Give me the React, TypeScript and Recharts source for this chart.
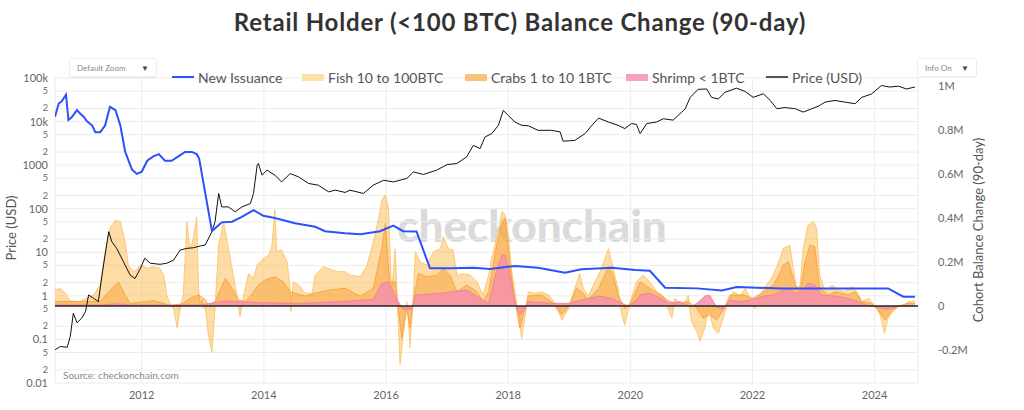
import React from 'react';
import { ComposedChart, Line, Area, XAxis, YAxis, CartesianGrid, ReferenceLine } from 'recharts';

const FONT = 'Lato, "Open Sans", sans-serif';

// [decimal year, value] pairs. Balances in millions of BTC (right axis), price in USD (left, log)
const newIssuance: [number, number][] = [
  [2010.58, 0.86], [2010.64, 0.92], [2010.69, 0.93], [2010.76, 0.96], [2010.8, 0.845], [2010.86, 0.86],
  [2010.94, 0.89], [2010.99, 0.875], [2011.05, 0.86], [2011.1, 0.84], [2011.19, 0.82], [2011.24, 0.79],
  [2011.32, 0.79], [2011.4, 0.82], [2011.48, 0.905], [2011.57, 0.89], [2011.65, 0.82], [2011.73, 0.7],
  [2011.84, 0.62], [2011.92, 0.6], [2012.0, 0.61], [2012.09, 0.66], [2012.19, 0.68], [2012.28, 0.69],
  [2012.38, 0.66], [2012.49, 0.66], [2012.6, 0.68], [2012.71, 0.7], [2012.82, 0.7], [2012.9, 0.69],
  [2012.94, 0.67], [2013.15, 0.34], [2013.23, 0.36], [2013.31, 0.38], [2013.48, 0.383], [2013.64, 0.405],
  [2013.83, 0.436], [2013.99, 0.41], [2014.18, 0.4], [2014.51, 0.376], [2014.84, 0.36], [2015.0, 0.34],
  [2015.33, 0.33], [2015.58, 0.326], [2015.9, 0.34], [2016.12, 0.365], [2016.28, 0.34], [2016.5, 0.338],
  [2016.72, 0.171], [2017.05, 0.171], [2017.43, 0.174], [2017.7, 0.168], [2018.11, 0.182], [2018.49, 0.174],
  [2018.93, 0.151], [2019.2, 0.167], [2019.7, 0.174], [2020.08, 0.164], [2020.32, 0.16], [2020.57, 0.083],
  [2021.09, 0.08], [2021.5, 0.07], [2021.74, 0.086], [2022.45, 0.08], [2024.22, 0.08], [2024.47, 0.042],
  [2024.66, 0.042],
];

const fish: [number, number][] = [
  [2010.58, 0.073], [2010.67, 0.08], [2010.75, 0.058], [2010.83, 0.023], [2010.99, 0.02], [2011.1, 0.035],
  [2011.21, 0.05], [2011.32, 0.095], [2011.4, 0.247], [2011.48, 0.353], [2011.57, 0.39], [2011.65, 0.383],
  [2011.73, 0.29], [2011.78, 0.186], [2011.87, 0.155], [2011.98, 0.186], [2012.09, 0.171], [2012.19, 0.179],
  [2012.3, 0.17], [2012.36, 0.14], [2012.41, 0.05], [2012.47, 0.005], [2012.52, -0.01], [2012.58, -0.1],
  [2012.63, -0.01], [2012.68, 0.05], [2012.74, 0.383], [2012.79, 0.26], [2012.84, 0.3], [2012.9, 0.405],
  [2012.93, 0.08], [2012.96, 0.0], [2012.99, 0.03], [2013.01, -0.01], [2013.04, 0.0], [2013.09, -0.13],
  [2013.15, -0.21], [2013.2, -0.01], [2013.26, 0.277], [2013.34, 0.383], [2013.42, 0.26], [2013.5, 0.14],
  [2013.56, 0.05], [2013.61, -0.05], [2013.67, 0.05], [2013.75, 0.148], [2013.83, 0.126], [2013.89, 0.186],
  [2013.97, 0.21], [2014.08, 0.232], [2014.13, 0.27], [2014.18, 0.436], [2014.21, 0.247], [2014.29, 0.255],
  [2014.38, 0.2], [2014.43, 0.08], [2014.44, -0.026], [2014.48, 0.11], [2014.57, 0.095], [2014.68, 0.058],
  [2014.79, 0.058], [2014.84, 0.14], [2014.98, 0.179], [2015.11, 0.164], [2015.22, 0.156], [2015.33, 0.156],
  [2015.41, 0.14], [2015.58, 0.133], [2015.69, 0.186], [2015.79, 0.29], [2015.88, 0.4], [2015.93, 0.48],
  [2015.99, 0.505], [2016.04, 0.444], [2016.07, 0.23], [2016.09, 0.05], [2016.15, 0.26], [2016.19, -0.01],
  [2016.23, -0.268], [2016.28, -0.13], [2016.34, 0.02], [2016.37, -0.07], [2016.39, -0.19], [2016.44, 0.0],
  [2016.48, 0.247], [2016.56, 0.2], [2016.67, 0.186], [2016.78, 0.247], [2016.89, 0.26], [2016.94, 0.315],
  [2017.02, 0.26], [2017.1, 0.255], [2017.16, 0.14], [2017.27, 0.146], [2017.38, 0.14], [2017.49, 0.11],
  [2017.59, 0.05], [2017.68, 0.14], [2017.73, 0.217], [2017.81, 0.308], [2017.9, 0.429], [2017.95, 0.414],
  [2018.0, 0.323], [2018.06, 0.156], [2018.11, 0.065], [2018.17, -0.04], [2018.22, -0.147], [2018.28, -0.04],
  [2018.33, 0.065], [2018.44, 0.058], [2018.55, 0.065], [2018.66, 0.05], [2018.77, 0.012], [2018.88, -0.064],
  [2018.99, -0.01], [2019.09, 0.08], [2019.17, 0.148], [2019.23, 0.08], [2019.31, 0.045], [2019.42, 0.11],
  [2019.53, 0.171], [2019.64, 0.26], [2019.72, 0.171], [2019.8, 0.08], [2019.86, -0.04], [2019.91, -0.086],
  [2019.97, -0.01], [2020.05, 0.065], [2020.1, 0.11], [2020.21, 0.14], [2020.32, 0.11], [2020.43, 0.065],
  [2020.54, 0.045], [2020.68, -0.056], [2020.73, 0.035], [2020.87, 0.0], [2020.95, 0.05], [2021.0, -0.07],
  [2021.09, -0.117], [2021.14, -0.16], [2021.22, -0.1], [2021.28, -0.01], [2021.36, -0.1], [2021.44, -0.124],
  [2021.52, -0.056], [2021.6, 0.02], [2021.69, 0.065], [2021.8, 0.045], [2021.88, 0.08], [2021.96, 0.035],
  [2022.04, -0.01], [2022.12, 0.05], [2022.23, 0.095], [2022.31, 0.126], [2022.4, 0.179], [2022.45, 0.217],
  [2022.5, 0.26], [2022.61, 0.277], [2022.67, 0.171], [2022.72, 0.08], [2022.78, 0.095], [2022.83, 0.26],
  [2022.91, 0.368], [2023.0, 0.383], [2023.05, 0.353], [2023.1, 0.14], [2023.19, 0.065], [2023.3, 0.095],
  [2023.4, 0.073], [2023.51, 0.065], [2023.62, 0.087], [2023.71, 0.065], [2023.79, 0.02], [2023.9, 0.035],
  [2024.01, 0.0], [2024.09, -0.04], [2024.16, -0.124], [2024.22, -0.056], [2024.3, -0.026], [2024.39, 0.0],
  [2024.47, 0.0], [2024.55, 0.02], [2024.66, 0.023],
];

const crabs: [number, number][] = [
  [2010.58, 0.02], [2011.32, 0.02], [2011.46, 0.065], [2011.62, 0.11], [2011.73, 0.05], [2011.81, 0.012],
  [2012.09, 0.02], [2012.19, 0.025], [2012.36, 0.012], [2012.47, 0.0], [2012.68, 0.012], [2012.79, 0.035],
  [2012.93, 0.05], [2013.04, 0.03], [2013.09, 0.0], [2013.2, 0.02], [2013.37, 0.126], [2013.48, 0.08],
  [2013.58, 0.03], [2013.69, 0.02], [2013.78, 0.045], [2013.91, 0.095], [2014.02, 0.118], [2014.18, 0.133],
  [2014.32, 0.11], [2014.43, 0.065], [2014.51, 0.058], [2014.68, 0.045], [2014.84, 0.058], [2015.06, 0.073],
  [2015.33, 0.08], [2015.58, 0.045], [2015.79, 0.08], [2015.93, 0.26], [2015.99, 0.375], [2016.06, 0.11],
  [2016.15, 0.11], [2016.2, -0.01], [2016.26, -0.147], [2016.34, -0.01], [2016.39, -0.1], [2016.45, 0.03],
  [2016.53, 0.148], [2016.67, 0.133], [2016.83, 0.14], [2016.94, 0.171], [2017.05, 0.14], [2017.16, 0.065],
  [2017.32, 0.095], [2017.49, 0.065], [2017.59, 0.02], [2017.68, 0.065], [2017.79, 0.247], [2017.9, 0.383],
  [2017.95, 0.4], [2018.03, 0.186], [2018.11, 0.02], [2018.19, -0.1], [2018.28, -0.01], [2018.33, 0.045],
  [2018.55, 0.05], [2018.71, 0.02], [2018.88, -0.04], [2018.99, 0.0], [2019.12, 0.08], [2019.2, 0.065],
  [2019.31, 0.03], [2019.48, 0.08], [2019.64, 0.179], [2019.72, 0.14], [2019.8, 0.05], [2019.91, -0.01],
  [2020.02, 0.02], [2020.16, 0.11], [2020.32, 0.08], [2020.49, 0.05], [2020.65, 0.02], [2020.81, 0.012],
  [2020.95, 0.02], [2021.09, -0.01], [2021.19, -0.056], [2021.3, -0.04], [2021.41, -0.064], [2021.52, -0.02],
  [2021.63, 0.05], [2021.85, 0.05], [2022.01, 0.035], [2022.18, 0.065], [2022.34, 0.095], [2022.45, 0.15],
  [2022.5, 0.186], [2022.59, 0.2], [2022.7, 0.095], [2022.78, 0.065], [2022.86, 0.2], [2022.94, 0.277],
  [2023.02, 0.27], [2023.1, 0.08], [2023.24, 0.05], [2023.35, 0.065], [2023.57, 0.05], [2023.68, 0.065],
  [2023.79, 0.02], [2023.95, 0.012], [2024.06, -0.02], [2024.17, -0.064], [2024.28, -0.02], [2024.39, 0.0],
  [2024.55, 0.012], [2024.66, 0.012],
];

const shrimp: [number, number][] = [
  [2010.58, 0.005], [2011.32, 0.005], [2011.62, 0.01], [2011.81, 0.005], [2012.96, 0.005], [2013.37, 0.023],
  [2013.94, 0.015], [2014.57, 0.012], [2015.25, 0.02], [2015.79, 0.03], [2015.93, 0.103], [2016.04, 0.11],
  [2016.12, 0.065], [2016.2, 0.02], [2016.28, -0.015], [2016.42, -0.015], [2016.48, 0.05], [2016.89, 0.058],
  [2017.32, 0.073], [2017.54, 0.035], [2017.68, 0.012], [2017.79, 0.14], [2017.9, 0.232], [2017.95, 0.232],
  [2018.03, 0.14], [2018.09, 0.05], [2018.14, -0.01], [2018.19, -0.04], [2018.28, -0.01], [2018.33, 0.02],
  [2018.71, 0.012], [2018.99, 0.012], [2019.2, 0.027], [2019.48, 0.045], [2019.7, 0.035], [2019.8, 0.02],
  [2019.97, 0.0], [2020.08, 0.02], [2020.16, 0.05], [2020.32, 0.058], [2020.49, 0.035], [2020.65, 0.012],
  [2020.81, 0.02], [2020.98, -0.005], [2021.09, 0.012], [2021.22, 0.045], [2021.3, 0.05], [2021.41, -0.005],
  [2021.52, -0.015], [2021.63, 0.027], [2021.8, 0.02], [2021.96, 0.027], [2022.18, 0.045], [2022.34, 0.05],
  [2022.45, 0.065], [2022.59, 0.08], [2022.7, 0.058], [2022.81, 0.065], [2022.91, 0.103], [2023.02, 0.095],
  [2023.13, 0.05], [2023.35, 0.045], [2023.57, 0.035], [2023.73, 0.02], [2023.9, 0.0], [2024.01, -0.003],
  [2024.11, -0.01], [2024.22, -0.015], [2024.39, 0.0], [2024.66, 0.0],
];

const price: [number, number][] = [
  [2010.58, 0.058], [2010.67, 0.069], [2010.78, 0.066], [2010.83, 0.117], [2010.88, 0.4], [2010.94, 0.24],
  [2011.02, 0.31], [2011.08, 0.44], [2011.13, 1.05], [2011.21, 0.88], [2011.29, 0.74], [2011.35, 3.0],
  [2011.4, 8.7], [2011.46, 29.7], [2011.51, 17.5], [2011.59, 12.3], [2011.7, 6.1], [2011.81, 3.0],
  [2011.89, 2.5], [2011.98, 4.3], [2012.05, 7.3], [2012.14, 5.6], [2012.3, 5.3], [2012.41, 5.6],
  [2012.52, 6.6], [2012.63, 11.3], [2012.74, 12.3], [2012.85, 12.7], [2012.96, 14], [2013.04, 14.7],
  [2013.15, 29.7], [2013.2, 50], [2013.26, 224], [2013.31, 110], [2013.42, 110], [2013.53, 85],
  [2013.64, 110], [2013.78, 132], [2013.83, 224], [2013.89, 1000], [2013.91, 1090], [2013.97, 590],
  [2014.05, 770], [2014.18, 590], [2014.29, 412], [2014.43, 640], [2014.57, 537], [2014.73, 380],
  [2014.89, 347], [2015.06, 244], [2015.17, 267], [2015.33, 236], [2015.41, 267], [2015.63, 224],
  [2015.79, 347], [2015.96, 450], [2016.12, 412], [2016.34, 495], [2016.45, 700], [2016.61, 610],
  [2016.83, 770], [2017.0, 1030], [2017.16, 1090], [2017.32, 1550], [2017.43, 2850], [2017.54, 2400],
  [2017.62, 4420], [2017.73, 5300], [2017.84, 8200], [2017.92, 18000], [2018.0, 13800], [2018.11, 9800],
  [2018.22, 8200], [2018.33, 8000], [2018.49, 6300], [2018.71, 6300], [2018.85, 5800], [2018.9, 3550],
  [2019.09, 3700], [2019.26, 5300], [2019.37, 8200], [2019.48, 12000], [2019.64, 9800], [2019.8, 8200],
  [2019.91, 6900], [2020.02, 9000], [2020.1, 8600], [2020.16, 5300], [2020.27, 9000], [2020.43, 9800],
  [2020.54, 11600], [2020.7, 10800], [2020.81, 15000], [2020.9, 19700], [2020.98, 36000], [2021.11, 55000],
  [2021.25, 56000], [2021.33, 36000], [2021.44, 33000], [2021.55, 47000], [2021.74, 58500], [2021.88, 49000],
  [2022.01, 36000], [2022.18, 43500], [2022.29, 30500], [2022.4, 19700], [2022.53, 21000], [2022.7, 19700],
  [2022.83, 16500], [2022.97, 19700], [2023.08, 22600], [2023.19, 28000], [2023.35, 30500], [2023.51, 28000],
  [2023.68, 25700], [2023.79, 36000], [2023.95, 43000], [2024.11, 67000], [2024.25, 62000], [2024.39, 65000],
  [2024.52, 56000], [2024.66, 62000],
];

const yearTicks = [2012, 2014, 2016, 2018, 2020, 2022, 2024];
const priceTicks = [
  0.01, 0.02, 0.05, 0.1, 0.2, 0.5, 1, 2, 5, 10, 20, 50, 100, 200, 500, 1000, 2000, 5000, 10000, 20000, 50000, 100000,
];
const balanceTicks = [-0.2, 0, 0.2, 0.4, 0.6, 0.8, 1];

const toRows = (pairs: [number, number][]) => pairs.map(([t, v]) => ({ t, v }));

const PriceTick = (props: any) => {
  const { x, y, payload } = props;
  const v: number = payload.value;
  const exp = Math.log10(v);
  const isDecade = Math.abs(exp - Math.round(exp)) < 1e-6;
  let label: string;
  if (isDecade) label = v >= 10000 ? `${v / 1000}k` : String(v);
  else label = String(Math.round(v / Math.pow(10, Math.floor(exp))));
  return (
    <text x={x} y={y} dy={isDecade ? 4 : 3} textAnchor="end" fontSize={isDecade ? 11 : 9} fill="#666" fontFamily={FONT}>
      {label}
    </text>
  );
};

const legendItems = [
  { name: 'New Issuance', kind: 'line', color: '#2b50ff', left: 172 },
  { name: 'Fish 10 to 100BTC', kind: 'box', color: '#fde0a8', left: 302 },
  { name: 'Crabs 1 to 10 1BTC', kind: 'box', color: '#fbc07a', left: 465 },
  { name: 'Shrimp < 1BTC', kind: 'box', color: '#f7a2b8', left: 626 },
  { name: 'Price (USD)', kind: 'line', color: '#555', left: 766 },
];

const Dropdown: React.FC<{ label: string; left: number; width: number }> = ({ label, left, width }) => (
  <div
    style={{
      position: 'absolute', left, top: 58, width, height: 19, border: '1px solid #eee', borderRadius: 3,
      boxShadow: '0 1px 2px rgba(0,0,0,0.06)', fontSize: 8, color: '#888', fontFamily: FONT,
      display: 'flex', alignItems: 'center', justifyContent: 'space-between', padding: '0 7px', boxSizing: 'border-box',
    }}
  >
    <span>{label}</span>
    <span style={{ color: '#444', fontSize: 8 }}>▼</span>
  </div>
);

export default function App() {
  return (
    <div style={{ position: 'absolute', left: 0, top: 0, width: 1024, height: 410, background: '#fff', fontFamily: FONT, overflow: 'hidden' }}>
      <div
        style={{
          position: 'absolute', left: 532, top: 203, transform: 'translateX(-50%)', fontSize: 44, lineHeight: '44px',
          fontWeight: 900, color: '#dadada', whiteSpace: 'nowrap',
        }}
      >
        checkonchain
      </div>

      <div style={{ position: 'absolute', left: 0, top: 0 }}>
        <ComposedChart width={1024} height={410} margin={{ top: 78, right: 0, bottom: 0, left: 0 }}>
          <CartesianGrid yAxisId="price" stroke="#ececec" strokeWidth={1} />
          <XAxis
            dataKey="t"
            type="number"
            domain={[2010.58, 2024.71]}
            ticks={yearTicks}
            allowDataOverflow
            height={27}
            axisLine={false}
            tickLine={false}
            tickSize={0}
            tickMargin={8}
            tick={{ fontSize: 11, fill: '#666', fontFamily: FONT }}
          />
          <YAxis
            yAxisId="price"
            scale="log"
            domain={[0.01, 100000]}
            ticks={priceTicks}
            allowDataOverflow
            width={55}
            axisLine={false}
            tickLine={false}
            tickSize={0}
            tickMargin={7}
            tick={<PriceTick />}
            interval={0}
          />
          <YAxis
            yAxisId="bal"
            orientation="right"
            domain={[-0.35, 1.036]}
            ticks={balanceTicks}
            allowDataOverflow
            width={106}
            axisLine={false}
            tickLine={false}
            tickSize={0}
            tickMargin={20}
            interval={0}
            tickFormatter={(v: number) => (v === 0 ? '0' : `${v}M`)}
            tick={{ fontSize: 11, fill: '#666', fontFamily: FONT, textAnchor: 'start' }}
          />
          <Line
            yAxisId="price"
            data={toRows(price)}
            dataKey="v"
            type="linear"
            stroke="#111"
            strokeWidth={1}
            dot={false}
            activeDot={false}
            isAnimationActive={false}
          />
          <Area
            yAxisId="bal"
            data={toRows(fish)}
            dataKey="v"
            type="linear"
            baseValue={0}
            fill="#fdb94e"
            fillOpacity={0.5}
            stroke="#fcbf60"
            strokeWidth={0.8}
            dot={false}
            activeDot={false}
            isAnimationActive={false}
          />
          <Area
            yAxisId="bal"
            data={toRows(crabs)}
            dataKey="v"
            type="linear"
            baseValue={0}
            fill="#f89a2c"
            fillOpacity={0.45}
            stroke="#f4a035"
            strokeWidth={0.8}
            dot={false}
            activeDot={false}
            isAnimationActive={false}
          />
          <Area
            yAxisId="bal"
            data={toRows(shrimp)}
            dataKey="v"
            type="linear"
            baseValue={0}
            fill="#f590aa"
            fillOpacity={0.85}
            stroke="#f07a98"
            strokeWidth={0.8}
            dot={false}
            activeDot={false}
            isAnimationActive={false}
          />
          <Line
            yAxisId="bal"
            data={toRows(newIssuance)}
            dataKey="v"
            type="linear"
            stroke="#2b50ff"
            strokeWidth={2}
            dot={false}
            activeDot={false}
            isAnimationActive={false}
          />
          <ReferenceLine yAxisId="bal" y={0} stroke="#222" strokeWidth={1.5} />
        </ComposedChart>
      </div>

      <div
        style={{
          position: 'absolute', left: 520, top: 9, transform: 'translateX(-50%)', fontSize: 24, lineHeight: '26px',
          fontWeight: 700, color: '#333', whiteSpace: 'nowrap', letterSpacing: 0.8,
        }}
      >
        Retail Holder (&lt;100 BTC) Balance Change (90-day)
      </div>

      <Dropdown label="Default Zoom" left={69} width={88} />
      <Dropdown label="Info On" left={917} width={60} />

      {legendItems.map((item) => (
        <div
          key={item.name}
          style={{ position: 'absolute', left: item.left, top: 69, height: 16, display: 'flex', alignItems: 'center', whiteSpace: 'nowrap' }}
        >
          <span
            style={{
              display: 'inline-block', width: 22, height: item.kind === 'line' ? 2 : 7, background: item.color, marginRight: 4,
            }}
          />
          <span style={{ fontSize: 14, color: '#555' }}>{item.name}</span>
        </div>
      ))}

      <div
        style={{
          position: 'absolute', left: 11, top: 228, transform: 'translate(-50%, -50%) rotate(-90deg)', fontSize: 13,
          color: '#555', whiteSpace: 'nowrap',
        }}
      >
        Price (USD)
      </div>
      <div
        style={{
          position: 'absolute', left: 978, top: 230, transform: 'translate(-50%, -50%) rotate(-90deg)', fontSize: 13,
          color: '#555', whiteSpace: 'nowrap',
        }}
      >
        Cohort Balance Change (90-day)
      </div>

      <div style={{ position: 'absolute', left: 63, top: 369, fontSize: 10, color: '#888', whiteSpace: 'nowrap' }}>
        Source: checkonchain.com
      </div>
    </div>
  );
}
